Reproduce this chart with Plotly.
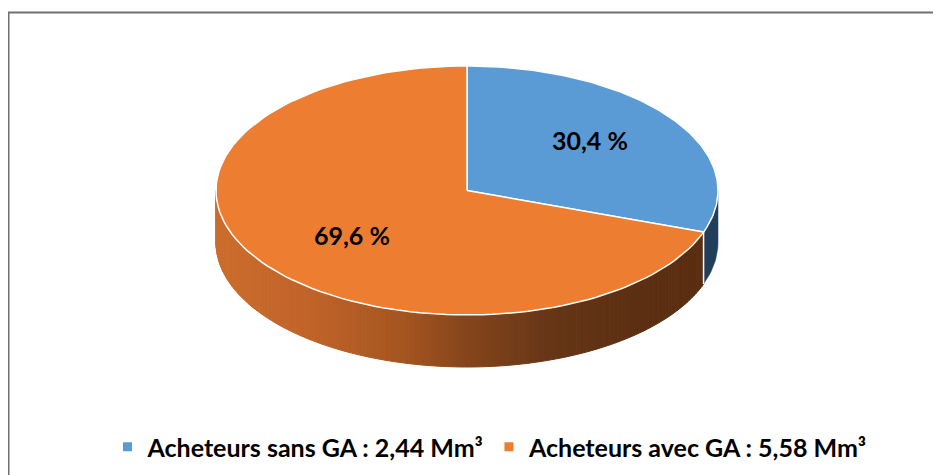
import math
import plotly.graph_objects as go

# ---- data ----
categories = ["Acheteurs sans GA", "Acheteurs avec GA"]
volumes = [2.44, 5.58]          # Mm³
pct_labels = ["30,4 %", "69,6 %"]
legend_labels = ["Acheteurs sans GA : 2,44 Mm³", "Acheteurs avec GA : 5,58 Mm³"]

# ---- style ----
top_colors = ["#5B9BD5", "#ED7D31"]
side_blue = "#213E5B"
orange_stops = [(0.0, (203, 109, 44)), (0.19, (192, 99, 42)), (0.37, (165, 85, 31)),
                (0.5, (133, 69, 28)), (0.66, (102, 54, 23)), (0.85, (92, 47, 18)),
                (1.0, (90, 46, 17))]
W, H = 941, 475
OFF = 8  # page body margin offset
cx, cy, rx, ry, depth = 467, 190.5, 251, 124.5, 52
label_frac = 0.6
label_shift = [(0, 7), (8, -1)]   # pixel nudges (x, y-up)
FONT = "Lato"


def pt(theta_deg, dy=0.0):
    t = math.radians(theta_deg)
    return cx + rx * math.cos(t), cy - ry * math.sin(t) + dy


def arc(a0, a1, n, dy=0.0):
    return [pt(a0 + (a1 - a0) * i / n, dy) for i in range(n + 1)]


def grad(t):
    for (t0, c0), (t1, c1) in zip(orange_stops[:-1], orange_stops[1:]):
        if t0 <= t <= t1:
            u = (t - t0) / (t1 - t0) if t1 > t0 else 0
            c = [round(c0[k] + (c1[k] - c0[k]) * u) for k in range(3)]
            return "rgb(%d,%d,%d)" % tuple(c)
    return "rgb(%d,%d,%d)" % orange_stops[-1][1]


total = sum(volumes)
fracs = [v / total for v in volumes]
# slices go clockwise from 12 o'clock
bounds = []
a = 90.0
for f in fracs:
    bounds.append((a, a - 360 * f))
    a -= 360 * f

fig = go.Figure()


def poly(pts, fill, line_color=None, line_width=0):
    xs = [p[0] for p in pts] + [pts[0][0]]
    ys = [p[1] for p in pts] + [pts[0][1]]
    fig.add_trace(go.Scatter(x=xs, y=ys, mode="lines", fill="toself", fillcolor=fill,
                             line=dict(color=line_color or fill, width=line_width),
                             hoverinfo="skip", showlegend=False))


# ---- side faces (visible front half: theta in [-180, 0]) ----
for i, (a0, a1) in enumerate(bounds):
    lo, hi = max(min(a0, a1), -180), min(max(a0, a1), 0)
    if hi <= lo:
        continue
    if i == 0:
        top = arc(hi, lo, 20)
        bot = arc(lo, hi, 20, depth)
        poly(top + bot, side_blue, side_blue, 0.5)
    else:
        n = 140
        for k in range(n):
            s0 = hi + (lo - hi) * k / n
            s1 = hi + (lo - hi) * (k + 1) / n
            xm = pt((s0 + s1) / 2)[0]
            t = (xm - (cx - rx)) / (2 * rx)
            col = grad(min(max(t, 0), 1))
            top = arc(s0, s1, 2)
            bot = arc(s1, s0, 2, depth)
            poly(top + bot, col, col, 1)

# white vertical edge between slice sides
for a0, a1 in bounds:
    if -180 < a1 < 0:
        x0, y0 = pt(a1)
        fig.add_trace(go.Scatter(x=[x0, x0], y=[y0, y0 + depth], mode="lines",
                                 line=dict(color="white", width=1.5),
                                 hoverinfo="skip", showlegend=False))

# ---- top faces ----
for i, (a0, a1) in enumerate(bounds):
    pts = [(cx, cy)] + arc(a0, a1, 120)
    poly(pts, top_colors[i], "white", 1.5)

# ---- percentage labels ----
for i, (a0, a1) in enumerate(bounds):
    mid = math.radians((a0 + a1) / 2)
    lx = cx + rx * label_frac * math.cos(mid)
    ly = cy - ry * label_frac * math.sin(mid)
    fig.add_annotation(x=lx, y=ly, text="<b>%s</b>" % pct_labels[i], showarrow=False,
                       xshift=label_shift[i][0], yshift=label_shift[i][1],
                       font=dict(family=FONT, size=25, color="black"))

# ---- legend entries ----
for i, lab in enumerate(legend_labels):
    fig.add_trace(go.Scatter(x=[None], y=[None], mode="markers", name="<b>%s</b>" % lab,
                             marker=dict(symbol="square", size=9, color=top_colors[i])))

# ---- chart border (top and left visible) ----
fig.add_shape(type="path", path="M 8.5 %d L 8.5 12.5 L %d 12.5" % (H + 20, W + 20),
              line=dict(color="#707070", width=2), xref="x", yref="y")

fig.update_layout(
    width=W, height=H, margin=dict(l=0, r=0, t=0, b=0),
    paper_bgcolor="white", plot_bgcolor="white",
    xaxis=dict(range=[OFF, W + OFF], visible=False, fixedrange=True),
    yaxis=dict(range=[H + OFF, OFF], visible=False, fixedrange=True),
    showlegend=True,
    legend=dict(orientation="h", x=(490 - OFF) / W, xanchor="center",
                y=1 - (447 - OFF) / H, yanchor="middle",
                font=dict(family=FONT, size=25, color="black"), itemwidth=30,
                bgcolor="rgba(0,0,0,0)"),
)

fig.write_html("out.html")
